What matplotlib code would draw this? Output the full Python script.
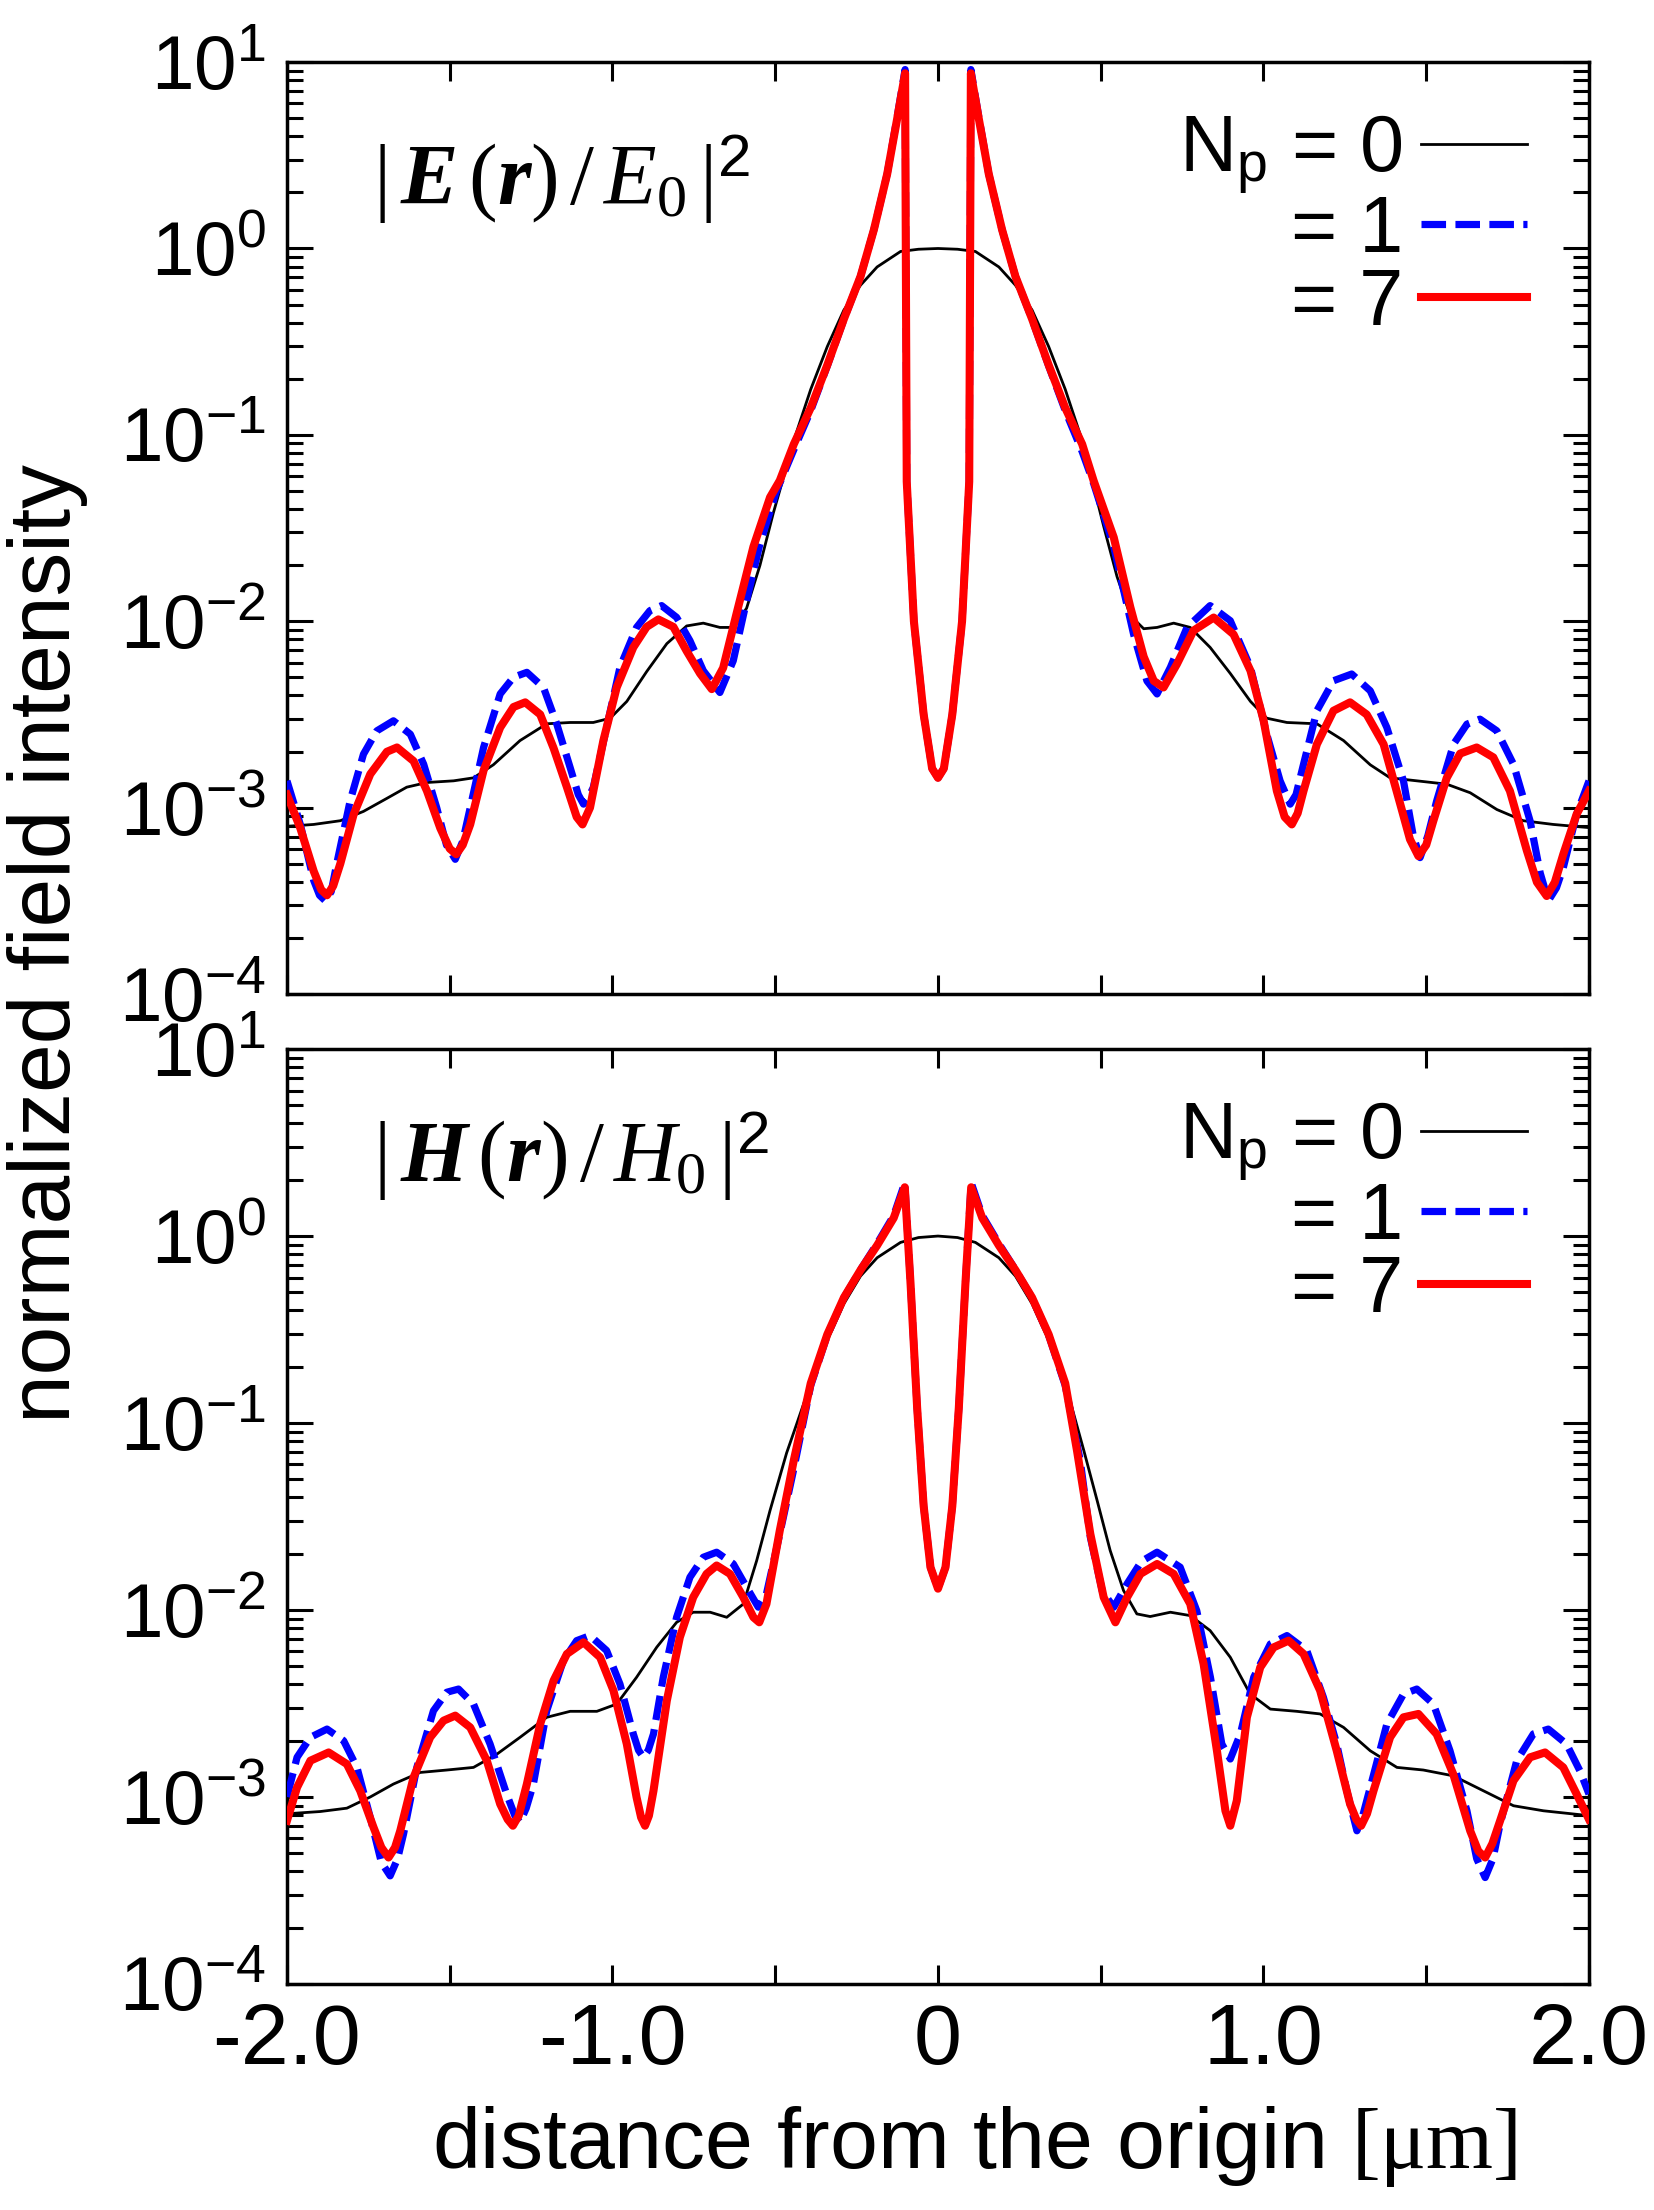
import numpy as np
import matplotlib
matplotlib.use("Agg")
import matplotlib.pyplot as plt
from matplotlib.ticker import FixedLocator, LogLocator, NullFormatter, FuncFormatter

# ---------------- data: (distance [um], log10 of normalized intensity) ----------------
E_np0 = [(-2.0,-3.10),(-1.918,-3.09),(-1.836,-3.07),(-1.765,-3.02),(-1.693,-2.95),(-1.632,-2.89),
         (-1.570,-2.865),(-1.488,-2.856),(-1.427,-2.84),(-1.366,-2.77),(-1.284,-2.64),(-1.202,-2.55),
         (-1.130,-2.543),(-1.059,-2.543),(-1.007,-2.52),(-0.956,-2.43),(-0.895,-2.27),(-0.833,-2.12),
         (-0.772,-2.025),(-0.721,-2.01),(-0.670,-2.033),(-0.629,-2.033),(-0.588,-1.93),(-0.547,-1.70),
         (-0.506,-1.42),(-0.470,-1.20),(-0.443,-1.03),(-0.391,-0.756),(-0.340,-0.526),(-0.289,-0.33),
         (-0.238,-0.197),(-0.187,-0.099),(-0.115,-0.016),(-0.06,-0.004),(0.0,0.0),(0.06,-0.004),
         (0.115,-0.016),(0.187,-0.099),(0.238,-0.197),(0.289,-0.33),(0.340,-0.526),(0.391,-0.756),
         (0.443,-1.03),(0.470,-1.22),(0.509,-1.49),(0.550,-1.76),(0.591,-1.97),(0.632,-2.04),
         (0.673,-2.033),(0.724,-2.01),(0.775,-2.033),(0.836,-2.14),(0.898,-2.28),(0.960,-2.43),
         (1.010,-2.52),(1.072,-2.543),(1.164,-2.55),(1.246,-2.64),(1.328,-2.77),(1.389,-2.84),
         (1.471,-2.856),(1.563,-2.874),(1.635,-2.92),(1.717,-3.01),(1.798,-3.07),(1.890,-3.09),(2.0,-3.107)]

E_np1 = [(-2.0,-2.856),(-1.959,-3.09),(-1.918,-3.39),(-1.900,-3.47),(-1.882,-3.50),(-1.864,-3.45),
         (-1.847,-3.30),(-1.806,-2.964),(-1.765,-2.713),(-1.724,-2.588),(-1.673,-2.534),(-1.621,-2.606),
         (-1.580,-2.767),(-1.540,-3.0),(-1.510,-3.20),(-1.483,-3.277),(-1.460,-3.18),(-1.437,-3.0),
         (-1.396,-2.677),(-1.345,-2.39),(-1.304,-2.30),(-1.263,-2.274),(-1.212,-2.355),(-1.171,-2.552),
         (-1.130,-2.785),(-1.105,-2.93),(-1.089,-2.981),(-1.075,-2.95),(-1.059,-2.892),(-1.018,-2.57),
         (-0.977,-2.247),(-0.926,-2.033),(-0.885,-1.943),(-0.849,-1.916),(-0.803,-1.979),(-0.762,-2.104),
         (-0.721,-2.265),(-0.670,-2.382),(-0.629,-2.212),(-0.588,-1.89),(-0.547,-1.585),(-0.496,-1.30),
         (-0.443,-1.08),(-0.391,-0.87),(-0.340,-0.63),(-0.289,-0.38),(-0.238,-0.15),(-0.197,0.10),
         (-0.156,0.40),(-0.125,0.71),(-0.101,0.96),(-0.096,-1.25),(-0.074,-2.0),(-0.044,-2.5),
         (-0.018,-2.79),(0.0,-2.84),(0.018,-2.79),(0.044,-2.5),(0.074,-2.0),(0.096,-1.25),(0.101,0.96),
         (0.125,0.71),(0.156,0.40),(0.197,0.10),(0.238,-0.15),(0.289,-0.38),(0.340,-0.63),(0.391,-0.87),
         (0.443,-1.09),(0.478,-1.26),(0.540,-1.60),(0.601,-2.07),(0.642,-2.32),(0.673,-2.39),
         (0.714,-2.247),(0.765,-2.033),(0.836,-1.916),(0.898,-1.997),(0.960,-2.247),(1.010,-2.606),
         (1.051,-2.856),(1.082,-2.981),(1.100,-2.93),(1.123,-2.767),(1.164,-2.48),(1.215,-2.319),
         (1.271,-2.283),(1.328,-2.373),(1.379,-2.57),(1.430,-2.856),(1.460,-3.15),(1.481,-3.268),
         (1.505,-3.15),(1.532,-2.964),(1.584,-2.659),(1.625,-2.552),(1.665,-2.525),(1.717,-2.588),
         (1.768,-2.767),(1.819,-3.071),(1.850,-3.35),(1.875,-3.50),(1.900,-3.43),(1.921,-3.322),
         (1.962,-3.035),(2.0,-2.856)]

E_np7 = [(-2.0,-2.93),(-1.959,-3.11),(-1.918,-3.34),(-1.895,-3.44),(-1.877,-3.47),(-1.858,-3.42),
         (-1.836,-3.30),(-1.795,-3.035),(-1.744,-2.82),(-1.693,-2.70),(-1.662,-2.677),(-1.611,-2.75),
         (-1.570,-2.91),(-1.529,-3.11),(-1.500,-3.22),(-1.480,-3.25),(-1.460,-3.20),(-1.437,-3.09),
         (-1.396,-2.80),(-1.345,-2.57),(-1.304,-2.46),(-1.268,-2.435),(-1.222,-2.50),(-1.181,-2.68),
         (-1.140,-2.89),(-1.110,-3.05),(-1.092,-3.09),(-1.069,-3.0),(-1.028,-2.64),(-0.987,-2.355),
         (-0.936,-2.14),(-0.895,-2.03),(-0.859,-1.99),(-0.813,-2.03),(-0.772,-2.16),(-0.731,-2.28),
         (-0.695,-2.364),(-0.660,-2.25),(-0.619,-1.96),(-0.567,-1.60),(-0.516,-1.335),(-0.486,-1.245),
         (-0.443,-1.05),(-0.391,-0.855),(-0.340,-0.625),(-0.289,-0.378),(-0.238,-0.15),(-0.197,0.10),
         (-0.156,0.40),(-0.125,0.70),(-0.101,0.94),(-0.096,-1.25),(-0.074,-2.0),(-0.044,-2.5),
         (-0.018,-2.79),(0.0,-2.84),(0.018,-2.79),(0.044,-2.5),(0.074,-2.0),(0.096,-1.25),(0.101,0.94),
         (0.125,0.70),(0.156,0.40),(0.197,0.10),(0.238,-0.15),(0.289,-0.378),(0.340,-0.625),
         (0.391,-0.855),(0.443,-1.05),(0.478,-1.245),(0.540,-1.55),(0.591,-1.925),(0.632,-2.19),
         (0.663,-2.32),(0.693,-2.355),(0.734,-2.23),(0.785,-2.05),(0.847,-1.98),(0.908,-2.07),
         (0.960,-2.265),(1.000,-2.53),(1.041,-2.91),(1.065,-3.05),(1.087,-3.09),(1.105,-3.03),
         (1.123,-2.91),(1.164,-2.66),(1.215,-2.48),(1.266,-2.435),(1.317,-2.50),(1.369,-2.66),
         (1.420,-2.98),(1.450,-3.17),(1.476,-3.26),(1.500,-3.20),(1.522,-3.07),(1.563,-2.84),
         (1.604,-2.71),(1.655,-2.677),(1.706,-2.73),(1.757,-2.91),(1.809,-3.23),(1.840,-3.40),
         (1.870,-3.474),(1.895,-3.40),(1.921,-3.25),(1.962,-3.035),(2.0,-2.91)]

H_np0 = [(-2.0,-3.09),(-1.898,-3.078),(-1.816,-3.06),(-1.744,-3.0),(-1.673,-2.931),(-1.591,-2.869),
         (-1.509,-2.856),(-1.427,-2.842),(-1.355,-2.771),(-1.284,-2.681),(-1.202,-2.574),(-1.130,-2.542),
         (-1.048,-2.542),(-0.987,-2.503),(-0.926,-2.36),(-0.864,-2.199),(-0.803,-2.066),(-0.752,-2.012),
         (-0.700,-2.012),(-0.649,-2.039),(-0.598,-1.968),(-0.557,-1.736),(-0.516,-1.468),(-0.465,-1.16),
         (-0.443,-1.05),(-0.391,-0.788),(-0.340,-0.558),(-0.289,-0.362),(-0.238,-0.214),(-0.187,-0.116),
         (-0.115,-0.034),(-0.06,-0.008),(0.0,0.0),(0.06,-0.008),(0.115,-0.034),(0.187,-0.116),
         (0.238,-0.214),(0.289,-0.362),(0.340,-0.558),(0.391,-0.788),(0.448,-1.147),(0.489,-1.415),
         (0.529,-1.682),(0.570,-1.896),(0.611,-2.021),(0.652,-2.035),(0.714,-2.012),(0.775,-2.03),
         (0.836,-2.11),(0.898,-2.253),(0.959,-2.449),(1.021,-2.53),(1.102,-2.542),(1.174,-2.556),
         (1.246,-2.628),(1.328,-2.753),(1.410,-2.842),(1.491,-2.856),(1.583,-2.887),(1.686,-2.976),
         (1.768,-3.047),(1.860,-3.074),(2.0,-3.10)]

H_np1 = [(-2.0,-3.0),(-1.969,-2.788),(-1.928,-2.681),(-1.877,-2.637),(-1.826,-2.699),(-1.785,-2.842),
         (-1.744,-3.11),(-1.710,-3.35),(-1.683,-3.422),(-1.660,-3.33),(-1.642,-3.199),(-1.601,-2.842),
         (-1.550,-2.539),(-1.509,-2.44),(-1.473,-2.423),(-1.427,-2.503),(-1.376,-2.717),(-1.325,-2.985),
         (-1.300,-3.10),(-1.284,-3.136),(-1.265,-3.06),(-1.243,-2.931),(-1.202,-2.539),(-1.151,-2.271),
         (-1.110,-2.164),(-1.069,-2.137),(-1.018,-2.217),(-0.977,-2.396),(-0.936,-2.663),(-0.920,-2.75),
         (-0.905,-2.788),(-0.890,-2.75),(-0.874,-2.663),(-0.844,-2.36),(-0.803,-2.039),(-0.762,-1.825),
         (-0.721,-1.718),(-0.680,-1.691),(-0.629,-1.753),(-0.588,-1.878),(-0.552,-1.985),(-0.527,-1.914),
         (-0.486,-1.593),(-0.444,-1.254),(-0.391,-0.80),(-0.340,-0.53),(-0.289,-0.33),(-0.238,-0.18),
         (-0.187,-0.04),(-0.136,0.11),(-0.102,0.285),(-0.084,-0.263),(-0.064,-0.919),(-0.044,-1.444),
         (-0.023,-1.772),(0.0,-1.886),(0.023,-1.772),(0.044,-1.444),(0.064,-0.919),(0.084,-0.263),
         (0.102,0.285),(0.136,0.11),(0.187,-0.04),(0.238,-0.18),(0.289,-0.33),(0.340,-0.53),
         (0.391,-0.80),(0.437,-1.20),(0.468,-1.61),(0.505,-1.90),(0.540,-1.985),(0.581,-1.86),
         (0.625,-1.74),(0.673,-1.691),(0.744,-1.771),(0.795,-2.004),(0.837,-2.36),(0.872,-2.717),
         (0.898,-2.797),(0.929,-2.663),(0.970,-2.36),(1.021,-2.182),(1.072,-2.137),(1.133,-2.217),
         (1.184,-2.467),(1.225,-2.717),(1.256,-2.967),(1.287,-3.181),(1.305,-3.10),(1.328,-2.949),
         (1.379,-2.61),(1.430,-2.45),(1.471,-2.423),(1.522,-2.503),(1.573,-2.753),(1.625,-3.074),
         (1.655,-3.33),(1.681,-3.431),(1.705,-3.33),(1.727,-3.145),(1.778,-2.806),(1.829,-2.663),
         (1.875,-2.637),(1.931,-2.717),(1.972,-2.86),(2.0,-2.985)]

H_np7 = [(-2.0,-3.127),(-1.969,-2.949),(-1.928,-2.806),(-1.872,-2.762),(-1.816,-2.824),(-1.775,-2.967),
         (-1.734,-3.163),(-1.710,-3.27),(-1.688,-3.324),(-1.668,-3.27),(-1.652,-3.181),(-1.611,-2.895),
         (-1.560,-2.681),(-1.519,-2.592),(-1.483,-2.565),(-1.437,-2.628),(-1.386,-2.806),(-1.345,-3.038),
         (-1.322,-3.12),(-1.306,-3.154),(-1.288,-3.10),(-1.263,-2.931),(-1.222,-2.61),(-1.181,-2.378),
         (-1.140,-2.235),(-1.089,-2.173),(-1.038,-2.253),(-0.997,-2.431),(-0.956,-2.717),(-0.926,-3.002),
         (-0.912,-3.11),(-0.900,-3.154),(-0.888,-3.10),(-0.874,-2.967),(-0.833,-2.485),(-0.793,-2.146),
         (-0.752,-1.932),(-0.711,-1.807),(-0.680,-1.762),(-0.639,-1.807),(-0.598,-1.932),(-0.567,-2.039),
         (-0.549,-2.066),(-0.527,-1.968),(-0.486,-1.575),(-0.443,-1.20),(-0.391,-0.788),(-0.340,-0.526),
         (-0.289,-0.329),(-0.238,-0.182),(-0.187,-0.05),(-0.136,0.097),(-0.102,0.261),(-0.084,-0.263),
         (-0.064,-0.919),(-0.044,-1.444),(-0.023,-1.772),(0.0,-1.886),(0.023,-1.772),(0.044,-1.444),
         (0.064,-0.919),(0.084,-0.263),(0.102,0.261),(0.136,0.097),(0.187,-0.05),(0.238,-0.182),
         (0.289,-0.329),(0.340,-0.526),(0.391,-0.788),(0.427,-1.147),(0.468,-1.593),(0.509,-1.932),
         (0.545,-2.066),(0.581,-1.932),(0.622,-1.807),(0.673,-1.754),(0.724,-1.807),(0.775,-1.968),
         (0.816,-2.289),(0.857,-2.753),(0.883,-3.074),(0.898,-3.154),(0.918,-3.02),(0.949,-2.574),
         (0.990,-2.307),(1.031,-2.20),(1.077,-2.164),(1.123,-2.235),(1.174,-2.431),(1.225,-2.753),
         (1.266,-3.038),(1.285,-3.12),(1.300,-3.154),(1.318,-3.09),(1.338,-2.967),(1.389,-2.681),
         (1.430,-2.574),(1.476,-2.556),(1.532,-2.664),(1.583,-2.878),(1.635,-3.181),(1.660,-3.29),
         (1.681,-3.324),(1.703,-3.25),(1.727,-3.127),(1.768,-2.913),(1.819,-2.788),(1.865,-2.762),
         (1.921,-2.842),(1.962,-2.985),(2.0,-3.12)]

series_labels = ['N$_\\mathregular{p}$ = 0', '= 1', '= 7']
panel_labels = [r'$|\,\mathbfit{E}\,(\mathbfit{r})\,/\,E_0\,|^{\mathsf{2}}$',
                r'$|\,\mathbfit{H}\,(\mathbfit{r})\,/\,H_0\,|^{\mathsf{2}}$']
x_ticks = [-2.0, -1.5, -1.0, -0.5, 0.0, 0.5, 1.0, 1.5, 2.0]
x_tick_labels = ['-2.0', '', '-1.0', '', '0', '', '1.0', '', '2.0']
y_decades = [-4, -3, -2, -1, 0, 1]
x_label = 'distance from the origin $\\mathrm{[\\mu m]}$'
y_label = 'normalized field intensity'

# ---------------- style ----------------
plt.rcParams['font.family'] = ['Liberation Sans', 'DejaVu Sans']
plt.rcParams['mathtext.fontset'] = 'custom'
plt.rcParams['mathtext.rm'] = 'Liberation Serif'
plt.rcParams['mathtext.it'] = 'Liberation Serif:italic'
plt.rcParams['mathtext.bf'] = 'Liberation Serif:bold'
plt.rcParams['mathtext.bfit'] = 'Liberation Serif:italic:bold'
plt.rcParams['mathtext.sf'] = 'Liberation Sans'
plt.rcParams['axes.linewidth'] = 2.5

styles = [dict(color='black', lw=2.0, ls='-', zorder=2),
          dict(color='#0000ff', lw=5.2, ls=(0, (3.4, 1.3)), zorder=3),
          dict(color='#ff0000', lw=5.8, ls='-', zorder=4)]

fig = plt.figure(figsize=(16.54, 22.10), dpi=100)
ax_top = fig.add_axes([0.1735, 0.5502, 0.7872, 0.4217])
ax_bot = fig.add_axes([0.1735, 0.1023, 0.7872, 0.4230])

panels = [(ax_top, [E_np0, E_np1, E_np7], panel_labels[0], 0.848),
          (ax_bot, [H_np0, H_np1, H_np7], panel_labels[1], 0.859)]

ylab_fmt = FuncFormatter(lambda v, pos: r'$\mathregular{10^{%d}}$' % int(round(np.log10(v))))

for ax, data, plabel, ly in panels:
    for ser, st, lab in zip(data, styles, series_labels):
        xs = np.array([p[0] for p in ser])
        ys = 10.0 ** np.array([p[1] for p in ser])
        ax.plot(xs, ys, color=st['color'], lw=st['lw'], ls=st['ls'], zorder=st['zorder'],
                label=lab, solid_joinstyle='round', dash_joinstyle='round')
    ax.set_yscale('log')
    ax.set_xlim(-2, 2)
    ax.set_ylim(1e-4, 1e1)
    ax.yaxis.set_major_locator(FixedLocator([10.0 ** d for d in y_decades]))
    ax.yaxis.set_minor_locator(LogLocator(base=10, subs=np.arange(2, 10)))
    ax.yaxis.set_minor_formatter(NullFormatter())
    ax.yaxis.set_major_formatter(ylab_fmt)
    ax.set_xticks(x_ticks)
    ax.set_xticklabels(x_tick_labels)
    ax.tick_params(which='both', direction='in', top=True, right=True, width=2.2)
    ax.tick_params(axis='y', which='major', length=19, pad=15, labelsize=55)
    ax.tick_params(axis='y', which='minor', length=11.5)
    ax.tick_params(axis='x', which='major', length=14, pad=13, labelsize=62)
    ax.text(0.066, ly, plabel, transform=ax.transAxes, fontsize=62, ha='left', va='baseline')
    ax.legend(loc='upper right', frameon=False, markerfirst=False, fontsize=57,
              handlelength=1.34, handletextpad=0.23, labelspacing=-0.03,
              borderpad=0.25, borderaxespad=(0.4, 0.5) if False else 0.4,
              bbox_to_anchor=(0.992, 1.0))

ax_top.tick_params(axis='x', labelbottom=False)

fig.text(0.5895, 0.019, x_label, fontsize=62, ha='center', va='baseline')
fig.text(0.029, 0.5729, y_label, fontsize=63, rotation=90, ha='center', va='center')

fig.savefig('out.png', dpi=100)
